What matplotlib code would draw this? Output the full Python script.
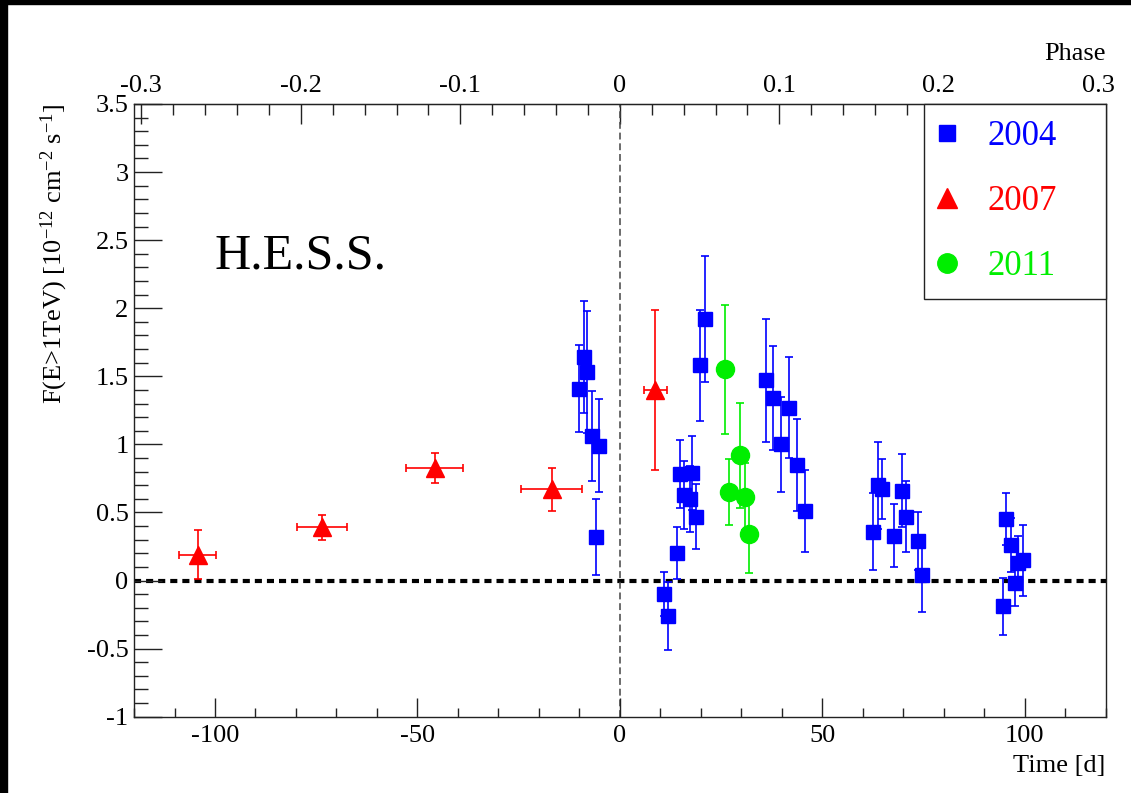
import matplotlib
matplotlib.use('Agg')
import matplotlib.pyplot as plt
from matplotlib.lines import Line2D
from matplotlib.patches import Rectangle
from matplotlib.ticker import MultipleLocator, FixedLocator, FuncFormatter

plt.rcParams['font.family'] = 'Liberation Serif'
plt.rcParams['axes.unicode_minus'] = False
plt.rcParams['mathtext.fontset'] = 'custom'
plt.rcParams['mathtext.rm'] = 'Liberation Serif'
plt.rcParams['mathtext.it'] = 'Liberation Serif:italic'

# 2004 light curve (days from periastron, flux above 1 TeV)
t_2004 = [-10.1, -8.9, -8.0, -6.8, -5.1, -6.0,
          21.0, 19.8, 14.8, 17.7, 15.9, 17.3, 18.7, 14.0, 10.9, 12.0,
          36.0, 37.9, 39.8, 41.8, 43.8, 45.7,
          62.6, 63.7, 64.7, 67.7, 69.6, 70.6, 73.7, 74.7,
          95.5, 94.7, 96.6, 98.4, 99.6, 97.6]
f_2004 = [1.41, 1.64, 1.53, 1.06, 0.99, 0.32,
          1.92, 1.58, 0.78, 0.79, 0.63, 0.60, 0.47, 0.20, -0.10, -0.26,
          1.47, 1.34, 1.00, 1.27, 0.85, 0.51,
          0.36, 0.70, 0.67, 0.33, 0.66, 0.47, 0.29, 0.04,
          0.45, -0.19, 0.26, 0.13, 0.15, -0.02]
ferr_2004 = [0.32, 0.41, 0.45, 0.33, 0.34, 0.28,
             0.46, 0.41, 0.25, 0.27, 0.25, 0.24, 0.24, 0.19, 0.16, 0.25,
             0.45, 0.38, 0.35, 0.37, 0.34, 0.30,
             0.28, 0.32, 0.22, 0.23, 0.27, 0.26, 0.21, 0.27,
             0.19, 0.21, 0.20, 0.20, 0.26, 0.17]

# 2007 (binned, with time extent)
t_2007 = [-104.3, -73.6, -45.7, -16.8, 8.8]
terr_2007 = [4.5, 6.1, 7.0, 7.5, 2.9]
f_2007 = [0.19, 0.39, 0.83, 0.67, 1.40]
ferr_2007 = [0.18, 0.095, 0.11, 0.16, 0.59]

# 2011
t_2011 = [26.0, 26.9, 29.8, 30.9, 31.9]
f_2011 = [1.55, 0.65, 0.92, 0.615, 0.345]
ferr_2011 = [0.475, 0.245, 0.385, 0.245, 0.29]

years = ['2004', '2007', '2011']
phase_ticks = [-0.3, -0.2, -0.1, 0.0, 0.1, 0.2, 0.3]
period = 394.0   # days per unit phase on the top axis

blue = '#0000ff'
red = '#ff0000'
green = '#00ee00'


def fmt(v, pos):
    s = f'{round(v, 3):g}'
    return '0' if s == '-0' else s


fig = plt.figure(figsize=(11.31, 7.93), dpi=100)
ax = fig.add_axes([0.1185, 0.0962, 0.8591, 0.7727])

ax.axhline(0, color='black', lw=3, dashes=(1.7, 1.2), zorder=1)
ax.axvline(0, color='#444444', lw=1.1, dashes=(4.5, 2.5), zorder=1)

ax.errorbar(t_2004, f_2004, yerr=ferr_2004, fmt='s', color=blue, ms=10.5,
            elinewidth=1.2, capsize=2.6, capthick=1.2, zorder=3)
ax.errorbar(t_2007, f_2007, xerr=terr_2007, yerr=ferr_2007, fmt='^', color=red,
            ms=13, elinewidth=1.2, capsize=2.6, capthick=1.2, zorder=3)
ax.errorbar(t_2011, f_2011, yerr=ferr_2011, fmt='o', color=green, ms=13,
            elinewidth=1.2, capsize=2.6, capthick=1.2, zorder=3)

ax.set_xlim(-120, 120)
ax.set_ylim(-1, 3.5)

ax.xaxis.set_major_locator(MultipleLocator(50))
ax.xaxis.set_minor_locator(MultipleLocator(10))
ax.yaxis.set_major_locator(MultipleLocator(0.5))
ax.yaxis.set_minor_locator(MultipleLocator(0.1))
ax.xaxis.set_major_formatter(FuncFormatter(fmt))
ax.yaxis.set_major_formatter(FuncFormatter(fmt))

ax.tick_params(which='both', direction='in', top=False, right=False,
               labelsize=19, width=1.0, color='#222222')
ax.tick_params(axis='x', which='major', length=13.5, pad=6)
ax.tick_params(axis='x', which='minor', length=6.7)
ax.tick_params(axis='y', which='major', length=20, pad=4)
ax.tick_params(axis='y', which='minor', length=10)
for sp in ax.spines.values():
    sp.set_linewidth(1.0)
    sp.set_color('#222222')

# phase scale on top
top = ax.secondary_xaxis('top', functions=(lambda t: t / period,
                                           lambda p: p * period))
top.xaxis.set_major_locator(FixedLocator(phase_ticks))
top.xaxis.set_minor_locator(MultipleLocator(0.02))
top.xaxis.set_major_formatter(FuncFormatter(fmt))
top.tick_params(which='both', direction='in', labelsize=19, width=1.0,
                color='#222222')
top.tick_params(which='major', length=14.5, pad=5)
top.tick_params(which='minor', length=8)
top.set_xlabel('Phase', fontsize=19, loc='right', labelpad=11)

ax.set_xlabel('Time [d]', fontsize=19, loc='right')
ax.xaxis.set_label_coords(1.0, -0.062)
ax.xaxis.label.set_va('top')
ax.set_ylabel(r'F(E>1TeV) [10$^{-12}$ cm$^{-2}$ s$^{-1}$]', fontsize=19,
              loc='top')
ax.yaxis.set_label_coords(-0.066, 1.0)

ax.text(-100, 2.29, 'H.E.S.S.', fontsize=36, va='baseline')

handles = [
    Line2D([], [], ls='none', marker='s', color=blue, ms=11),
    Line2D([], [], ls='none', marker='^', color=red, ms=14),
    Line2D([], [], ls='none', marker='o', color=green, ms=14),
]
leg = ax.legend(handles, years, loc='upper left',
                bbox_to_anchor=(0.813, 0.688, 0.187, 0.312), mode='expand',
                borderaxespad=0, fontsize=25, labelspacing=0.92,
                borderpad=0.47, handlelength=0.39, handletextpad=0.96,
                fancybox=False, framealpha=1, edgecolor='#222222',
                labelcolor=[blue, red, green])
leg.get_frame().set_linewidth(1.0)

# dark strips along the top and left edges
fig.add_artist(Rectangle((0, 0), 7 / 1131, 1, transform=fig.transFigure,
                         color='black', zorder=10))
fig.add_artist(Rectangle((0, 1 - 4 / 793), 1, 4 / 793,
                         transform=fig.transFigure, color='black', zorder=10))

fig.savefig('out.png', dpi=100)
